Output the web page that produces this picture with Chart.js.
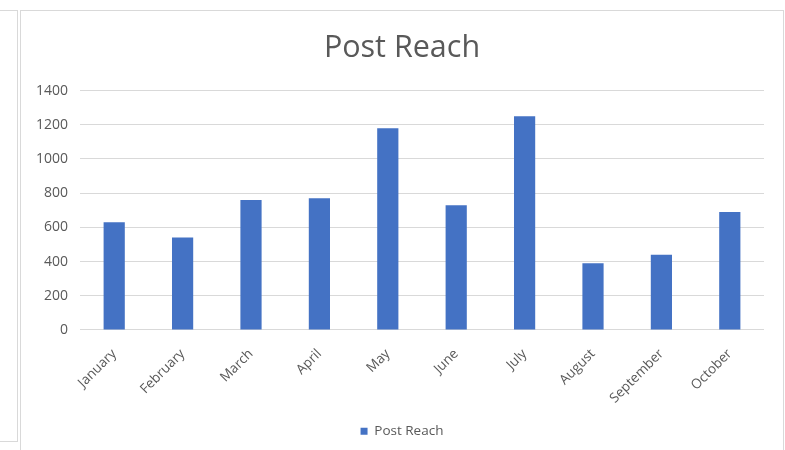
<!DOCTYPE html>
<html>
<head>
<meta charset="utf-8">
<script src="https://cdn.jsdelivr.net/npm/chart.js@4"></script>
<style>
    body { margin: 0; background: #fff; width: 785px; height: 450px; overflow: hidden; position: relative; }
    #panel { position: absolute; left: -5px; top: 10px; width: 21px; height: 430px; border: 1px solid #d9d9d9; }
    #frame { position: absolute; left: 20px; top: 10px; width: 762px; height: 460px; border: 1px solid #d9d9d9; }
    #wrap { position: absolute; left: 21px; top: 11px; width: 762px; height: 439px; }
</style>
</head>
<body>
<div id="panel"></div>
<div id="frame"></div>
<div id="wrap"><canvas id="barChart"></canvas></div>
<script>
const meses = ["January", "February", "March", "April", "May", "June", "July", "August", "September", "October"];
const alcance = [630, 540, 760, 770, 1180, 730, 1250, 390, 440, 690];
const ticksY = [0, 200, 400, 600, 800, 1000, 1200, 1400];

const gris = "#595959";
Chart.defaults.font.family = "'Open Sans', sans-serif";
Chart.defaults.color = gris;

let ctx = document.getElementById("barChart").getContext("2d");
let myChart = new Chart(ctx, {
    type: "bar",
    data: {
        labels: meses,
        datasets: [
            {
                label: "Post Reach",
                data: alcance,
                backgroundColor: "#4472C4",
                barPercentage: 0.31,
                categoryPercentage: 1,
            },
        ],
    },
    options: {
        responsive: true,
        maintainAspectRatio: false,
        animation: false,
        layout: { padding: { left: 0, right: 0, top: 0, bottom: 2 } },
        plugins: {
            title: {
                display: true,
                text: "Post Reach",
                color: gris,
                font: { size: 30.5, weight: "normal" },
                padding: { top: 19, bottom: 24 },
            },
            legend: {
                position: "bottom",
                labels: {
                    boxWidth: 7,
                    boxHeight: 7,
                    color: gris,
                    font: { size: 13.5 },
                    padding: 12,
                },
            },
            tooltip: { enabled: false },
        },
        scales: {
            x: {
                grid: { display: false },
                border: { display: false },
                afterFit: (axis) => {
                    axis.height -= 2;
                },
                ticks: {
                    maxRotation: 45,
                    minRotation: 45,
                    font: { size: 13.5 },
                    color: gris,
                    padding: 8,
                },
            },
            y: {
                min: 0,
                max: 1400,
                afterBuildTicks: (axis) => {
                    axis.ticks = ticksY.map((v) => ({ value: v }));
                },
                afterFit: (axis) => {
                    axis.width = 59;
                },
                grid: { color: "#d9d9d9", lineWidth: 1, drawTicks: false },
                border: { display: false },
                ticks: {
                    font: { size: 14 },
                    color: gris,
                    padding: 12,
                    callback: (v) => String(v),
                },
            },
            // margen derecho vacio
            margen: {
                position: "right",
                display: true,
                grid: { display: false },
                border: { display: false },
                ticks: { display: false },
                afterFit: (axis) => {
                    axis.width = 19;
                },
            },
        },
    },
});
</script>
</body>
</html>
